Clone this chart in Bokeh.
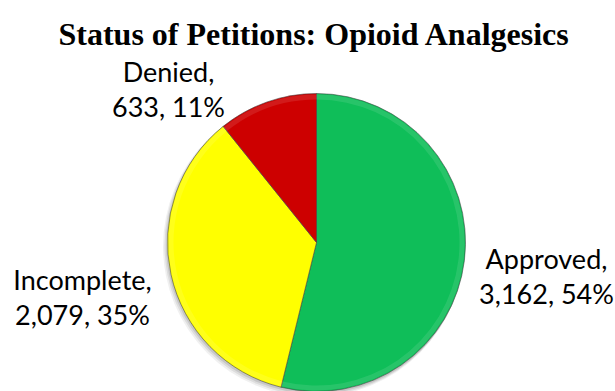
import numpy as np
from bokeh.plotting import figure
from bokeh.models import Range1d
from bokeh.core.properties import value
from bokeh.embed import file_html
from bokeh.resources import INLINE

# ---- data ----
chart_title = "Status of Petitions: Opioid Analgesics"
categories = ["Approved", "Incomplete", "Denied"]
counts = [3162, 2079, 633]

# ---- style / layout ----
slice_colors = ["#0FBE59", "#FFFF00", "#CD0000"]
W, H = 615, 391
CX, CY, R = 316, H - 242, 149           # pie centre / radius (page pixels, y up)
label_anchor = [(546, 258), (82, 279), (168, 71)]   # label centre x, first baseline (px from top)
LINE_GAP = 35
LABEL_FONT = "Lato"
LABEL_SIZE = "27px"
TITLE_FONT = "Liberation Serif"
TITLE_SIZE = "32px"

p = figure(width=W, height=H, x_range=Range1d(0, W), y_range=Range1d(0, H),
           output_backend="svg", toolbar_location=None, min_border=0)
p.axis.visible = False
p.grid.visible = False
p.outline_line_color = None
p.background_fill_color = "white"
p.border_fill_color = "white"

vals = np.array(counts, dtype=float)
frac = vals / vals.sum()
ends = np.pi / 2 - 2 * np.pi * np.cumsum(frac)
starts = np.concatenate([[np.pi / 2], ends[:-1]])

# soft shadow
for k, a in [(3, 0.06), (2, 0.08), (1, 0.10)]:
    p.circle(x=[CX - k], y=[CY - k - 1], radius=R + k * 0.5,
             fill_color="black", fill_alpha=a, line_color=None)

p.wedge(x=CX, y=CY, radius=R, start_angle=starts, end_angle=ends,
        direction="clock", fill_color=slice_colors,
        line_color="#4a4a4a", line_alpha=0.6, line_width=1)

# subtle bevel highlight near the rim
p.annular_wedge(x=CX, y=CY, inner_radius=R - 6, outer_radius=R - 1,
                start_angle=starts, end_angle=ends, direction="clock",
                fill_color="white", fill_alpha=0.10, line_color=None)

# labels
pct = np.round(100 * frac).astype(int)
for cat, cnt, pc, (lx, by) in zip(categories, counts, pct, label_anchor):
    lines = [f"{cat},", f"{cnt:,}, {pc}%"]
    for i, t in enumerate(lines):
        p.text(x=[lx], y=[H - (by + i * LINE_GAP)], text=[t],
               text_font=value(LABEL_FONT), text_font_size=LABEL_SIZE,
               text_color="black", text_align="center",
               text_baseline="alphabetic")

p.text(x=[314], y=[H - 33], text=[chart_title],
       text_font=value(TITLE_FONT), text_font_size=TITLE_SIZE,
       text_font_style="bold", text_color="black",
       text_align="center", text_baseline="alphabetic")

open("out.html", "w").write(file_html(p, INLINE))
